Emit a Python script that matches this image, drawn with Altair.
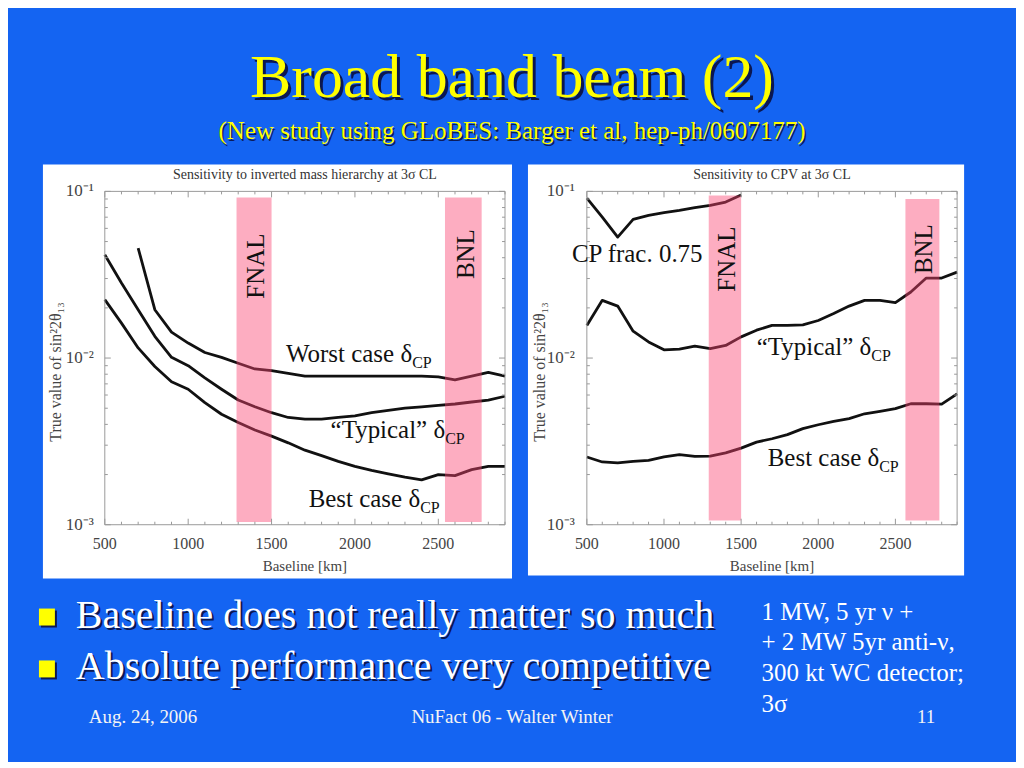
import altair as alt
import pandas as pd

# ---------------- data ----------------
BASELINE_KM = [500, 600, 700, 800, 900, 1000, 1100, 1200, 1300, 1400, 1500, 1600, 1700,
               1800, 1900, 2000, 2100, 2200, 2300, 2400, 2500, 2600, 2700, 2800, 2900]

# Left panel: sensitivity to inverted mass hierarchy
MH_WORST_KM = BASELINE_KM[2:]
MH_WORST = [0.0457, 0.0195, 0.0143, 0.0123, 0.0108, 0.0101, 0.0093, 0.0086, 0.0084, 0.0081,
            0.0078, 0.0078, 0.0078, 0.0078, 0.0078, 0.0078, 0.0078, 0.0078, 0.0077, 0.0074,
            0.0078, 0.0082, 0.0078]
MH_TYPICAL = [0.0417, 0.0282, 0.0195, 0.0135, 0.0101, 0.0090, 0.0076, 0.0065, 0.0056, 0.0051,
              0.0047, 0.0044, 0.0043, 0.0043, 0.0044, 0.0045, 0.0047, 0.00485, 0.0050, 0.0051,
              0.0052, 0.0053, 0.00545, 0.0056, 0.0059]
MH_BEST = [0.0224, 0.0162, 0.0115, 0.0089, 0.0072, 0.0065, 0.0054, 0.0046, 0.0041, 0.0037,
           0.0034, 0.0031, 0.0028, 0.0026, 0.0024, 0.00224, 0.00212, 0.00202, 0.00193, 0.00186,
           0.0020, 0.00197, 0.00214, 0.00224, 0.00224]

# Right panel: sensitivity to CPV
CPV_FRAC_KM = BASELINE_KM[:11]
CPV_FRAC = [0.0912, 0.0701, 0.0532, 0.0679, 0.0718, 0.0745, 0.0769, 0.0798, 0.0824, 0.0863, 0.0950]
CPV_TYPICAL = [0.0157, 0.0222, 0.0205, 0.0145, 0.0125, 0.0112, 0.0113, 0.0118, 0.0114, 0.0119,
               0.0134, 0.0147, 0.0157, 0.0157, 0.0158, 0.0168, 0.0185, 0.0205, 0.0222, 0.0222,
               0.0215, 0.0249, 0.0302, 0.0302, 0.0328]
CPV_BEST = [0.00255, 0.00238, 0.00235, 0.0024, 0.00243, 0.00255, 0.00263, 0.00257, 0.00258, 0.0027,
            0.00288, 0.00313, 0.00328, 0.00347, 0.00377, 0.00398, 0.00417, 0.00433, 0.00463, 0.00479,
            0.00497, 0.00532, 0.00532, 0.00529, 0.0061]

# Experiment baseline bands (km range, value range)
BAND_NAMES = ["FNAL", "BNL"]
MH_BAND_KM = [(1290, 1500), (2540, 2760)]
MH_BAND_VAL = [(0.00104, 0.092), (0.00104, 0.092)]
CPV_BAND_KM = [(1290, 1500), (2565, 2785)]
CPV_BAND_VAL = [(0.00106, 0.0946), (0.00106, 0.0900)]

X_TICKS_MAJOR = [500, 1000, 1500, 2000, 2500]
X_TICK_LABELS = ["500", "1000", "1500", "2000", "2500"]
X_TICKS_MINOR = [v for v in range(600, 2901, 100) if v % 500]
Y_TICKS_MAJOR = [0.001, 0.01, 0.1]
Y_TICK_LABELS = ["10⁻³", "10⁻²", "10⁻¹"]
Y_TICKS_MINOR = [m * 10.0 ** e for e in (-3, -2) for m in range(2, 10)]
X_TITLE = "Baseline [km]"
Y_TITLE = "True value of sin²2θ₁₃"

SLIDE_TITLE = "Broad band beam (2)"
SLIDE_SUBTITLE = "(New study using GLoBES: Barger et al, hep-ph/0607177)"
BULLETS = ["Baseline does not really matter so much", "Absolute performance very competitive"]
NOTE = ["1 MW, 5 yr ν +", "+ 2 MW 5yr anti-ν,", "300 kt WC detector;", "3σ"]
FOOTER = ["Aug. 24, 2006", "NuFact 06 - Walter Winter", "11"]

# ---------------- styling ----------------
FONT = "Liberation Serif"
BLUE = "#1464F2"
YELLOW = "#FFFF00"
SHADOW = "#0A0A35"
AXC = "#444444"
FRAME = "#9a9a9a"
W1, W2, H = 401, 371, 334
dummy = pd.DataFrame({"_": [0]})


def curves_df(series):
    rows = []
    for name, kms, vals in series:
        for k, v in zip(kms, vals):
            rows.append({"series": name, "km": k, "value": v})
    return pd.DataFrame(rows)


def bands_df(kms, vals):
    return pd.DataFrame({"name": BAND_NAMES,
                         "x0": [k[0] for k in kms], "x1": [k[1] for k in kms],
                         "y0": [v[0] for v in vals], "y1": [v[1] for v in vals]})


def text_layer(s, x, y, size, color, align="left", baseline="alphabetic", **kw):
    return alt.Chart(dummy).mark_text(font=FONT, fontSize=size, color=color, align=align,
                                      baseline=baseline, **kw).encode(
        x=alt.value(x), y=alt.value(y), text=alt.value(s))


def make_panel(W, curves, bands, band_labels, curve_labels, title, box, ytitle_x, ylab_x,
               extra=(), left_labels=None):
    xs = alt.Scale(domain=[500, 2900], nice=False, zero=False)
    ys = alt.Scale(type="log", domain=[0.001, 0.1], nice=False)
    X = lambda f: alt.X(f, scale=xs, axis=None)
    Y = lambda f: alt.Y(f, scale=ys, axis=None)
    layers = list(extra)
    # white panel box
    layers.append(alt.Chart(dummy).mark_rect(color="white").encode(
        x=alt.value(box[0]), x2=alt.value(box[1]), y=alt.value(box[2]), y2=alt.value(box[3])))
    # curves
    layers.append(alt.Chart(curves).mark_line(color="#111111", strokeWidth=2.8,
                                              strokeJoin="round").encode(
        x=X("km:Q"), y=Y("value:Q"), detail="series:N"))
    # experiment bands (semi-transparent, over the curves)
    layers.append(alt.Chart(bands).mark_rect(color="#FA4472", opacity=0.44).encode(
        x=X("x0:Q"), x2="x1:Q", y=Y("y0:Q"), y2="y1:Q"))
    # frame
    layers.append(alt.Chart(dummy).mark_rect(fillOpacity=0, stroke=FRAME, strokeWidth=1).encode(
        x=alt.value(0), x2=alt.value(W), y=alt.value(0), y2=alt.value(H)))
    # inward frame ticks
    for vals, L in ((X_TICKS_MAJOR, 6), (X_TICKS_MINOR, 3)):
        df = pd.DataFrame({"t": vals})
        for y0, y1 in ((H, H - L), (0, L)):
            layers.append(alt.Chart(df).mark_rule(color=FRAME, strokeWidth=1).encode(
                x=X("t:Q"), y=alt.value(y0), y2=alt.value(y1)))
    for vals, L in ((Y_TICKS_MAJOR, 6), (Y_TICKS_MINOR, 3)):
        df = pd.DataFrame({"t": vals})
        for x0, x1 in ((0, L), (W, W - L)):
            layers.append(alt.Chart(df).mark_rule(color=FRAME, strokeWidth=1).encode(
                y=Y("t:Q"), x=alt.value(x0), x2=alt.value(x1)))
    # tick labels and axis titles
    layers.append(alt.Chart(pd.DataFrame({"t": X_TICKS_MAJOR, "lab": X_TICK_LABELS})).mark_text(
        font=FONT, fontSize=16, color=AXC, align="center", baseline="middle").encode(
        x=X("t:Q"), y=alt.value(H + 19), text="lab:N"))
    layers.append(alt.Chart(pd.DataFrame({"t": Y_TICKS_MAJOR, "lab": Y_TICK_LABELS})).mark_text(
        font=FONT, fontSize=17, color=AXC, align="right", baseline="middle").encode(
        y=Y("t:Q"), x=alt.value(ylab_x), text="lab:N"))
    layers.append(text_layer(X_TITLE, W / 2, H + 41, 15, AXC, align="center", baseline="middle"))
    layers.append(text_layer(Y_TITLE, ytitle_x, H / 2 + 14, 16, AXC, align="center",
                             baseline="middle", angle=270))
    # panel title
    layers.append(text_layer(title, W / 2, -12, 14, "#333333", align="center"))
    # band labels
    layers.append(alt.Chart(band_labels).mark_text(font=FONT, fontSize=25, color="#111111",
                                                   angle=270, align="center",
                                                   baseline="middle").encode(
        x=X("km:Q"), y=Y("value:Q"), text="text:N"))
    # curve labels: main part + subscript
    layers.append(alt.Chart(curve_labels).mark_text(font=FONT, fontSize=25, color="#111111",
                                                    align="right", baseline="alphabetic").encode(
        x=X("km:Q"), y=Y("value:Q"), text="main:N"))
    layers.append(alt.Chart(curve_labels).mark_text(font=FONT, fontSize=16, color="#111111",
                                                    align="left", baseline="alphabetic",
                                                    dy=6).encode(
        x=X("km:Q"), y=Y("value:Q"), text="sub:N"))
    if left_labels is not None:
        layers.append(alt.Chart(left_labels).mark_text(font=FONT, fontSize=25, color="#111111",
                                                       align="left", baseline="alphabetic").encode(
            x=X("km:Q"), y=Y("value:Q"), text="text:N"))
    return alt.layer(*layers).properties(width=W, height=H)


# ---------------- slide decorations (placed relative to the left panel) ----------------
slide = [
    alt.Chart(dummy).mark_rect(color=BLUE).encode(
        x=alt.value(-96), x2=alt.value(912), y=alt.value(-182), y2=alt.value(570)),
    text_layer(SLIDE_TITLE, 411, -92, 62, SHADOW, align="center", opacity=0.85),
    text_layer(SLIDE_TITLE, 408, -95, 62, YELLOW, align="center"),
    text_layer(SLIDE_SUBTITLE, 409.5, -50.5, 25, SHADOW, align="center", opacity=0.8),
    text_layer(SLIDE_SUBTITLE, 408, -52, 25, YELLOW, align="center"),
]
for i, b in enumerate(BULLETS):
    y0 = 418 + 52 * i
    slide.append(alt.Chart(dummy).mark_rect(color=SHADOW, opacity=0.85).encode(
        x=alt.value(-64), x2=alt.value(-48), y=alt.value(y0 + 2), y2=alt.value(y0 + 19)))
    slide.append(alt.Chart(dummy).mark_rect(color=YELLOW).encode(
        x=alt.value(-66), x2=alt.value(-50), y=alt.value(y0), y2=alt.value(y0 + 17)))
    slide.append(text_layer(b, -27, 439 + 52 * i, 40, SHADOW, opacity=0.85))
    slide.append(text_layer(b, -29, 437 + 52 * i, 40, "white"))
slide.append(text_layer("\n".join(NOTE), 658, 429, 25, "white", lineBreak="\n", lineHeight=31))
slide.append(text_layer(FOOTER[0], -16, 533, 19, "#f4f4f4"))
slide.append(text_layer(FOOTER[1], 408, 533, 19, "#f4f4f4", align="center"))
slide.append(text_layer(FOOTER[2], 823, 533, 19, "#f4f4f4", align="center"))

# ---------------- panels ----------------
mh_curves = curves_df([("worst", MH_WORST_KM, MH_WORST),
                       ("typical", BASELINE_KM, MH_TYPICAL),
                       ("best", BASELINE_KM, MH_BEST)])
mh_band_labels = pd.DataFrame({"km": [1404, 2667], "value": [0.0356, 0.042], "text": BAND_NAMES})
mh_curve_labels = pd.DataFrame({"km": [2343, 2541, 2391], "value": [0.00946, 0.00332, 0.00128],
                                "main": ["Worst case δ", "“Typical” δ", "Best case δ"],
                                "sub": ["CP", "CP", "CP"]})
left = make_panel(W1, mh_curves, bands_df(MH_BAND_KM, MH_BAND_VAL), mh_band_labels,
                  mh_curve_labels, "Sensitivity to inverted mass hierarchy at 3σ CL",
                  (-62, 408, -27, 388), -49, -11, extra=slide)

cpv_curves = curves_df([("frac", CPV_FRAC_KM, CPV_FRAC),
                        ("typical", BASELINE_KM, CPV_TYPICAL),
                        ("best", BASELINE_KM, CPV_BEST)])
cpv_band_labels = pd.DataFrame({"km": [1406, 2687], "value": [0.0392, 0.045], "text": BAND_NAMES})
cpv_curve_labels = pd.DataFrame({"km": [2344, 2395], "value": [0.0104, 0.00225],
                                 "main": ["“Typical” δ", "Best case δ"], "sub": ["CP", "CP"]})
cpv_left_labels = pd.DataFrame({"km": [403], "value": [0.0376], "text": ["CP frac. 0.75"]})
right = make_panel(W2, cpv_curves, bands_df(CPV_BAND_KM, CPV_BAND_VAL), cpv_band_labels,
                   cpv_curve_labels, "Sensitivity to CPV at 3σ CL",
                   (-59, 378, -27, 385), -47, -12, left_labels=cpv_left_labels)

chart = alt.hconcat(left, right, spacing=82, bounds="flush").properties(
    padding=0, background=BLUE
).configure_view(stroke="transparent")

chart.save("out.html", embed_options={"renderer": "svg", "actions": False})
